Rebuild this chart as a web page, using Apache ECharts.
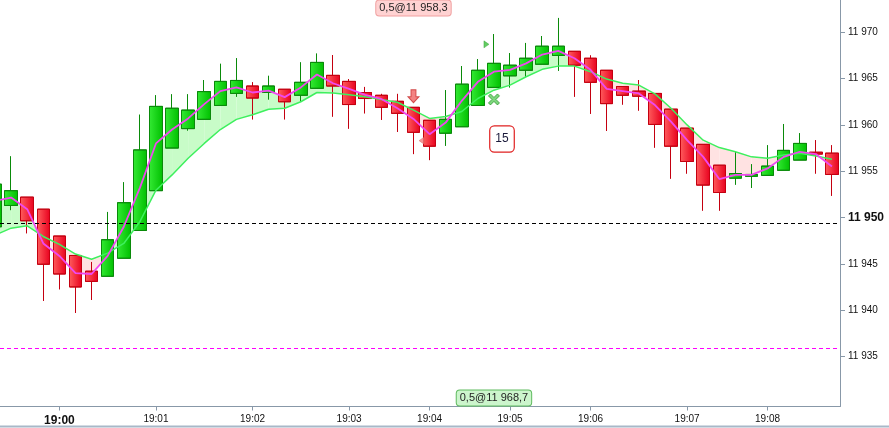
<!DOCTYPE html>
<html>
<head>
<meta charset="utf-8">
<script src="https://cdn.jsdelivr.net/npm/echarts@6/dist/echarts.min.js"></script>
<style>
html,body{margin:0;padding:0;background:#fff;}
#chart{width:889px;height:428px;}
</style>
</head>
<body>
<div id="chart"></div>
<script>
// ---- data ----
// candle: [open, close, low, high]
const candles = [
[11949.0,11953.6,11948.5,11954.2],
[11951.3,11952.9,11950.8,11956.6],
[11952.2,11949.65,11948.3,11952.2],
[11950.9,11944.95,11941.0,11950.9],
[11948.0,11943.9,11942.25,11948.0],
[11945.9,11942.5,11939.7,11945.9],
[11944.2,11943.1,11941.1,11945.2],
[11943.65,11947.6,11943.65,11950.6],
[11945.6,11951.6,11945.6,11953.8],
[11948.6,11957.3,11948.6,11961.1],
[11952.9,11962.0,11952.9,11963.2],
[11957.5,11961.8,11957.5,11963.3],
[11959.6,11961.6,11959.4,11963.3],
[11960.6,11963.6,11960.6,11964.85],
[11962.1,11964.7,11962.1,11966.6],
[11963.4,11964.8,11963.05,11967.2],
[11964.2,11962.9,11960.6,11964.6],
[11963.5,11964.2,11962.75,11965.3],
[11963.85,11962.5,11960.6,11963.85],
[11963.2,11964.6,11962.55,11966.75],
[11963.95,11966.75,11963.95,11967.7],
[11965.35,11964.2,11960.9,11967.55],
[11964.7,11962.2,11959.6,11964.95],
[11963.5,11962.85,11961.25,11964.1],
[11963.2,11961.9,11960.55,11963.35],
[11962.55,11961.25,11959.25,11963.35],
[11961.9,11959.2,11956.85,11961.9],
[11960.5,11957.7,11956.2,11960.5],
[11959.1,11960.6,11957.75,11963.75],
[11959.8,11964.4,11959.8,11966.35],
[11962.1,11965.9,11962.1,11967.1],
[11964.05,11966.65,11964.05,11969.8],
[11965.3,11966.45,11964.05,11967.75],
[11965.9,11967.2,11965.2,11968.85],
[11966.55,11968.5,11966.55,11969.6],
[11967.5,11968.5,11965.85,11971.55],
[11967.95,11966.45,11963.05,11967.95],
[11967.2,11964.6,11961.2,11967.5],
[11965.9,11962.3,11959.35,11965.9],
[11964.15,11963.2,11962.2,11964.15],
[11963.65,11963.1,11961.55,11964.85],
[11963.4,11960.05,11957.55,11963.4],
[11961.7,11957.7,11954.2,11961.7],
[11959.65,11956.05,11954.75,11959.65],
[11957.9,11953.5,11950.75,11957.9],
[11955.65,11952.7,11950.75,11955.65],
[11954.25,11954.75,11953.55,11957.05],
[11954.45,11954.65,11953.2,11955.75],
[11954.55,11955.55,11954.55,11957.8],
[11955.1,11957.25,11955.1,11960.1],
[11956.2,11958.0,11956.2,11959.1],
[11957.05,11956.85,11954.75,11958.35],
[11956.95,11954.65,11952.35,11957.8]
];
const fastAvg = [11951.8,11952.15,11950.9,11947.2,11945.85,11944.0,11943.9,11945.85,11949.0,11953.2,
11958.0,11959.5,11960.7,11962.25,11963.65,11964.05,11963.5,11963.7,11963.0,11964.05,
11965.45,11964.5,11963.9,11963.25,11962.8,11961.8,11960.65,11959.0,11960.25,11962.6,
11964.65,11965.75,11965.95,11966.65,11967.6,11968.0,11967.2,11965.95,11963.9,11963.65,
11963.4,11962.15,11960.35,11958.35,11956.55,11954.15,11954.6,11954.6,11955.3,11956.55,
11957.1,11956.85,11955.5];
const slowAvg = [11948.1,11948.85,11949.1,11947.95,11947.1,11946.05,11945.5,11946.15,11947.2,11949.55,
11952.95,11954.6,11956.4,11958.0,11959.5,11960.6,11961.1,11961.7,11961.8,11962.5,
11963.5,11963.45,11963.25,11963.05,11962.75,11962.45,11961.6,11960.7,11960.9,11961.45,
11962.85,11963.75,11964.3,11965.2,11966.0,11966.35,11966.35,11965.75,11964.95,11964.5,
11964.3,11963.35,11961.8,11960.0,11958.35,11957.55,11957.1,11956.55,11956.4,11956.75,
11956.95,11956.65,11956.3];
const tickIndex = [4,10,16,22,27,32,37,43,48];
const tickText = ['19:00','19:01','19:02','19:03','19:04','19:05','19:06','19:07','19:08'];
const yTicks = [11935,11940,11945,11950,11955,11960,11965,11970];
const boldTick = 11950;
const levelBlack = 11949.4;
const levelMagenta = 11935.9;
const arrowPoint = [[26, 11963.1]];
const redLevelPoint = [[27, 11958.3]];
const greenLevelPoint = [[31, 11968.7]];
const crossPoint = [[31, 11962.75]];
const topLabelText = '0,5@11 958,3';
const bottomLabelText = '0,5@11 968,7';
const boxText = '15';

// ---- chart ----
const chart = echarts.init(document.getElementById('chart'), null, {renderer: 'canvas'});
const FONT = "'Liberation Sans', Arial, sans-serif";
const axisColor = '#8898a8';
const fmt = v => String(v).replace(/\B(?=(\d{3})+(?!\d))/g, ' ');

const fillSeries = {
  type: 'custom',
  z: 1,
  silent: true,
  clip: true,
  data: fastAvg.slice(0, -1).map((v, i) => [i, v]),
  encode: {x: 0, y: 1},
  renderItem: function (params, api) {
    const j = api.value(0);
    const a0 = fastAvg[j], a1 = fastAvg[j + 1], b0 = slowAvg[j], b1 = slowAvg[j + 1];
    const A0 = api.coord([j, a0]), A1 = api.coord([j + 1, a1]);
    const B0 = api.coord([j, b0]), B1 = api.coord([j + 1, b1]);
    const up = '#c8fcc8', down = '#ffe2e2';
    const d0 = a0 - b0, d1 = a1 - b1;
    if (d0 * d1 >= 0) {
      return {type: 'polygon', shape: {points: [A0, A1, B1, B0]},
        style: {fill: (d0 + d1) >= 0 ? up : down}};
    }
    const t = d0 / (d0 - d1);
    const X = [A0[0] + t * (A1[0] - A0[0]), A0[1] + t * (A1[1] - A0[1])];
    return {type: 'group', children: [
      {type: 'polygon', shape: {points: [A0, X, B0]}, style: {fill: d0 > 0 ? up : down}},
      {type: 'polygon', shape: {points: [X, A1, B1]}, style: {fill: d1 > 0 ? up : down}}
    ]};
  }
};

const option = {
  animation: false,
  backgroundColor: '#fff',
  textStyle: {fontFamily: FONT},
  grid: {left: 0, right: 49, top: 0, bottom: 21.5, containLabel: false},
  xAxis: {
    type: 'value',
    min: 0.31, max: 52.5,
    axisLine: {show: true, onZero: false, lineStyle: {color: axisColor, width: 1}},
    axisTick: {show: true, length: 4, customValues: tickIndex, lineStyle: {color: axisColor}},
    axisLabel: {
      show: true, margin: 8, customValues: tickIndex,
      fontSize: 10, color: '#111', fontFamily: FONT,
      formatter: (val) => {
        const k = tickIndex.indexOf(Math.round(val));
        if (k < 0) return '';
        return k === 0 ? '{b|' + tickText[k] + '}' : tickText[k];
      },
      rich: {b: {fontWeight: 'bold', fontSize: 12, color: '#111', fontFamily: FONT}}
    },
    splitLine: {show: false}
  },
  yAxis: {
    type: 'value',
    position: 'right',
    min: 11929.59, max: 11973.49,
    axisLine: {show: true, onZero: false, lineStyle: {color: axisColor, width: 1}},
    axisTick: {show: true, length: 5, customValues: yTicks, lineStyle: {color: axisColor}},
    axisLabel: {
      show: true, margin: 8, fontSize: 10, color: '#111', fontFamily: FONT,
      customValues: yTicks,
      formatter: v => v === boldTick ? '{b|' + fmt(v) + '}' : fmt(v),
      rich: {b: {fontWeight: 'bold', fontSize: 12, color: '#111', fontFamily: FONT}}
    },
    splitLine: {show: false}
  },
  series: [
    fillSeries,
    {
      type: 'candlestick',
      z: 2,
      clip: true,
      data: candles.map((c, j) => [j].concat(c)),
      encode: {x: 0, y: [1, 2, 3, 4]},
      barWidth: 13,
      itemStyle: {
        color: {type: 'linear', x: 0, y: 0, x2: 1, y2: 0,
          colorStops: [{offset: 0, color: '#34ea34'}, {offset: 1, color: '#00bf00'}]},
        color0: {type: 'linear', x: 0, y: 0, x2: 1, y2: 0,
          colorStops: [{offset: 0, color: '#ff5e5e'}, {offset: 1, color: '#e8001e'}]},
        borderColor: '#0a8a0a',
        borderColor0: '#c40010',
        borderWidth: 1
      },
      emphasis: {disabled: true}
    },
    {
      type: 'line', z: 3, data: slowAvg.map((v, j) => [j, v]), symbol: 'none', smooth: false,
      lineStyle: {color: '#3ef05e', width: 1.5}, silent: true,
      markLine: {
        silent: true, symbol: 'none', label: {show: false},
        data: [
          {yAxis: levelBlack, lineStyle: {color: '#000', type: [4, 3], width: 1}},
          {yAxis: levelMagenta, lineStyle: {color: '#ff00ff', type: [4, 3], width: 1}}
        ]
      }
    },
    {
      type: 'line', z: 4, data: fastAvg.map((v, j) => [j, v]), symbol: 'none', smooth: false,
      lineStyle: {color: '#f048f0', width: 1.8}, silent: true
    },
    {
      type: 'scatter', z: 6, data: arrowPoint,
      symbol: 'path://M3,0 L8,0 L8,7 L11,7 L5.5,13 L0,7 L3,7 Z',
      symbolSize: [11, 13],
      itemStyle: {color: '#f06464', borderColor: '#c83030', borderWidth: 1}
    },
    {
      type: 'scatter', z: 6, data: redLevelPoint,
      symbol: 'path://M6,0 L6,8 L0,4 Z', symbolSize: [5, 7], symbolOffset: [-8, 0],
      itemStyle: {color: '#f28080', borderColor: '#d05050', borderWidth: 0.5}
    },
    {
      type: 'scatter', z: 6, data: greenLevelPoint,
      symbol: 'path://M0,0 L6,4 L0,8 Z', symbolSize: [5, 7], symbolOffset: [-7.5, 0],
      itemStyle: {color: '#3cbf3c', borderColor: '#2a9a2a', borderWidth: 0.5}
    },
    {
      type: 'scatter', z: 6, data: crossPoint,
      symbol: 'path://M2,0 L5.5,3.5 L9,0 L11,2 L7.5,5.5 L11,9 L9,11 L5.5,7.5 L2,11 L0,9 L3.5,5.5 L0,2 Z',
      symbolSize: [11, 11],
      itemStyle: {color: '#5ccc5c', borderColor: '#2f9a2f', borderWidth: 1}
    }
  ]
};
chart.setOption(option);

const xTop = chart.convertToPixel({xAxisIndex: 0}, 26);
const xBot = chart.convertToPixel({xAxisIndex: 0}, 31);
const xBox = chart.convertToPixel({xAxisIndex: 0}, 31.5);
chart.setOption({
  graphic: [
    {type: 'text', z: 100, x: xTop, y: 8,
      style: {text: topLabelText, fill: '#222', font: '11px ' + FONT, align: 'center', verticalAlign: 'middle',
        backgroundColor: '#ffd2d2', borderColor: '#f0a0a0', borderWidth: 1, borderRadius: 3, padding: [2, 3, 2, 3]}},
    {type: 'text', z: 100, x: xBot, y: 398,
      style: {text: bottomLabelText, fill: '#222', font: '11px ' + FONT, align: 'center', verticalAlign: 'middle',
        backgroundColor: '#ccf5cc', borderColor: '#60bb60', borderWidth: 1, borderRadius: 3, padding: [2, 3, 2, 3]}},
    {type: 'text', z: 100, x: xBox, y: 139,
      style: {text: boxText, fill: '#1a1a3a', font: '12px ' + FONT, align: 'center', verticalAlign: 'middle',
        backgroundColor: '#fff', borderColor: '#e02020', borderWidth: 1.2, borderRadius: 4, padding: [7, 5, 6, 5]}},
    {type: 'line', z: 100, shape: {x1: 0, y1: 426.5, x2: 889, y2: 426.5},
      style: {stroke: '#a8b8c8', lineWidth: 2}}
  ]
});
</script>
</body>
</html>
